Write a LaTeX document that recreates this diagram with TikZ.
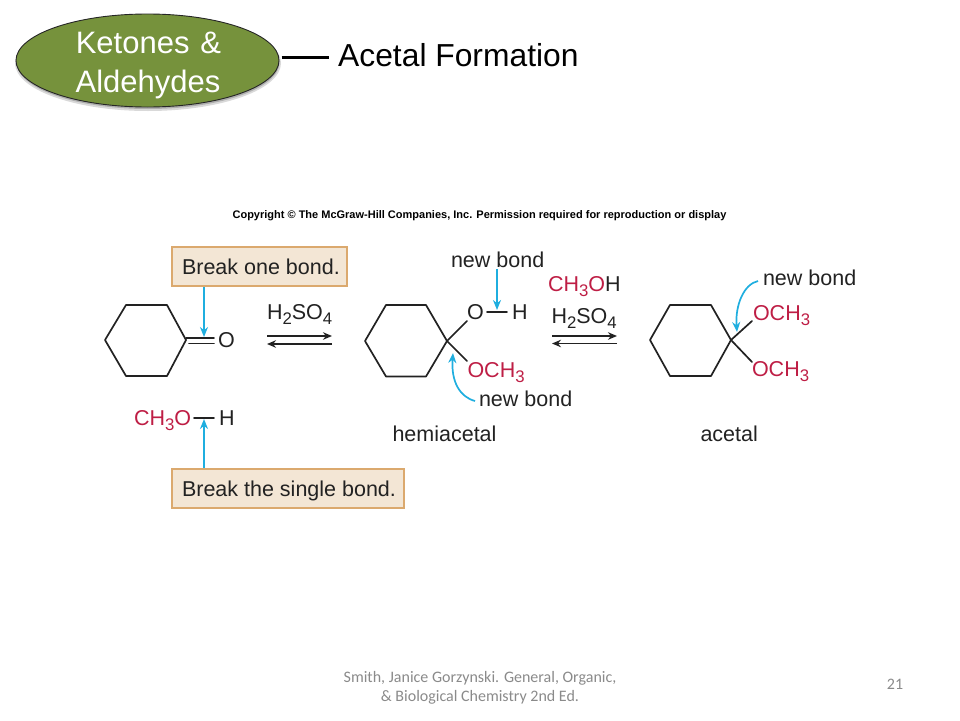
\documentclass[tikz,border=0pt]{standalone}
\usepackage{fontspec}
\usepackage{graphicx}
\setmainfont{Liberation Sans}
\newfontfamily\footfont{Carlito}
\usetikzlibrary{arrows.meta,shapes.geometric}
\definecolor{olivefill}{HTML}{76923C}
\definecolor{inkblack}{HTML}{222222}
\definecolor{chemred}{HTML}{BE1E45}
\definecolor{arrowblue}{HTML}{1FAEDF}
\definecolor{boxfill}{HTML}{F3E6D5}
\definecolor{boxline}{HTML}{DBA96E}
\definecolor{footgrey}{HTML}{8A8A8A}
\newcommand{\lowr}[1]{\raisebox{-0.27em}{\scalebox{0.78}{#1}}}
\tikzset{
  x=1pt,y=-1pt,
  lab/.style={anchor=base west,inner sep=0pt,outer sep=0pt,text=inkblack,font=\fontsize{21.5}{25}\selectfont},
  redlab/.style={lab,text=chemred},
  bond/.style={draw=inkblack,line width=1.7pt,line cap=round,line join=round},
  eqarrow/.style={draw=inkblack,line width=1.4pt,-{Stealth[length=9pt,width=7.5pt]}},
  bluearrow/.style={draw=arrowblue,line width=1.7pt,-{Stealth[length=10pt,width=8pt]}},
  notebox/.style={draw=boxline,fill=boxfill,line width=2.8pt,anchor=north west,inner sep=0pt,outer sep=0pt},
  topic/.style={ellipse,inner sep=0pt,minimum width=263pt,minimum height=93pt},
  foot/.style={anchor=base,inner sep=0pt,text=footgrey,font=\footfont\fontsize{16}{18}\selectfont},
}
\begin{document}
\begin{tikzpicture}
\useasboundingbox (0,0) rectangle (960,720);
% title
\node[topic,fill=black,opacity=.15,minimum width=266pt,minimum height=96pt] (shade2) at (148,63) {};
\node[topic,fill=black,opacity=.2] (shade) at (148,62.5) {};
\node[topic,fill=olivefill,draw=black!85,line width=.9pt] (ell) at (147.5,60.5) {};
\coordinate (ellr) at (281.5,57.5);
\coordinate (titleend) at (329,57.5);
\draw[black,line width=2.6pt] (ellr) -- (titleend);
\node[anchor=base,inner sep=0pt,text=white,font=\fontsize{31}{36}\selectfont] (t1) at (148.5,53) {Ketones\hspace{11pt}\&};
\node[anchor=base,inner sep=0pt,text=white,font=\fontsize{31}{36}\selectfont] (t2) at (148,92.5) {Aldehydes};
\node[anchor=base west,inner sep=0pt,text=black,font=\fontsize{31.8}{36}\selectfont] (title) at (338,66) {Acetal Formation};
\node[anchor=base,inner sep=0pt,text=black,font=\bfseries\fontsize{11}{13}\selectfont] (copy) at (479.5,218) {Copyright © The McGraw-Hill Companies, Inc. Permission required for reproduction or display};
% ketone
\draw[bond] (105,340) -- (126,305) -- (167,305) -- (186,340) -- (167,376) -- (126,376) -- cycle;
\coordinate (k1) at (186,338);
\coordinate (k2) at (189,343.5);
\node[lab] (ko) at (218,347) {O};
\coordinate (kb1) at (214,338);
\coordinate (kb2) at (214,343.5);
\draw[bond] (k1) -- (kb1);
\draw[bond] (k2) -- (kb2);
\node[notebox,minimum width=175pt,minimum height=39pt] (box1) at (172,247) {};
\node[lab] (box1t) at (182,274) {Break one bond.};
\coordinate (b1s) at (204,287);
\coordinate (b1e) at (204,337);
\draw[bluearrow] (b1s) -- (b1e);
\node[lab] (so1) at (267,319) {H\lowr{2}SO\lowr{4}};
\coordinate (e1a) at (267,336);
\coordinate (e1b) at (332,336);
\coordinate (e1c) at (332,344);
\coordinate (e1d) at (267,344);
\draw[eqarrow] (e1a) -- (e1b);
\draw[eqarrow] (e1c) -- (e1d);
% methanol
\node[redlab] (meoh) at (134,425) {CH\lowr{3}O};
\node[lab] (meh) at (219,425) {H};
\coordinate (mb1) at (194,418);
\coordinate (mb2) at (214,418);
\draw[bond] (mb1) -- (mb2);
\node[notebox,minimum width=232pt,minimum height=39pt] (box2) at (172,469) {};
\node[lab] (box2t) at (182,496) {Break the single bond.};
\coordinate (b2s) at (204,468);
\coordinate (b2e) at (204,419);
\draw[bluearrow] (b2s) -- (b2e);
% hemiacetal
\draw[bond] (365,341) -- (386,305) -- (426,305) -- (447,341) -- (426,376.5) -- (386,376.5) -- cycle;
\coordinate (hc) at (447,341);
\coordinate (ho1) at (467,321);
\coordinate (ho2) at (467,361);
\draw[bond] (hc) -- (ho1);
\draw[bond] (hc) -- (ho2);
\node[lab] (ho) at (467,319) {O};
\node[lab] (hh) at (512,319) {H};
\coordinate (hb1) at (487,312);
\coordinate (hb2) at (507,312);
\draw[bond] (hb1) -- (hb2);
\node[redlab] (hoch) at (467.5,377) {OCH\lowr{3}};
\node[lab] (nb1) at (451,267) {new bond};
\coordinate (h1s) at (497,269);
\coordinate (h1e) at (497,310);
\draw[bluearrow] (h1s) -- (h1e);
\node[lab] (nb2) at (479,406) {new bond};
\coordinate (h2s) at (475,401);
\coordinate (h2e) at (453,353);
\draw[bluearrow] (h2s) .. controls (460,397) and (451,382) .. (h2e);
\node[lab] (hemi) at (392.5,441) {hemiacetal};
\node[lab] (meoh2) at (548,291) {\textcolor{chemred}{CH\lowr{3}O}H};
\node[lab] (so2) at (551.5,323) {H\lowr{2}SO\lowr{4}};
\coordinate (e2a) at (552,336);
\coordinate (e2b) at (617,336);
\coordinate (e2c) at (617,343.5);
\coordinate (e2d) at (552,343.5);
\draw[eqarrow] (e2a) -- (e2b);
\draw[eqarrow] (e2c) -- (e2d);
% acetal
\draw[bond] (650,340) -- (670,305) -- (711,305) -- (731,340) -- (711,376) -- (670,376) -- cycle;
\coordinate (ac) at (731,340);
\coordinate (a1) at (752,321);
\coordinate (a2) at (752,362);
\draw[bond] (ac) -- (a1);
\draw[bond] (ac) -- (a2);
\node[redlab] (aoch1) at (753,320) {OCH\lowr{3}};
\node[redlab] (aoch2) at (752,376) {OCH\lowr{3}};
\node[lab] (nb3) at (763,285) {new bond};
\coordinate (a3s) at (758,281);
\coordinate (a3e) at (737,332);
\draw[bluearrow] (a3s) .. controls (744,284) and (735,305) .. (a3e);
\node[lab] (acetal) at (700.5,441) {acetal};
% footer
\node[foot] (f1) at (480,682) {Smith, Janice Gorzynski. General, Organic,};
\node[foot] (f2) at (480,701) {\& Biological Chemistry 2nd Ed.};
\node[foot] (pg) at (895,689) {21};
\end{tikzpicture}
\end{document}
